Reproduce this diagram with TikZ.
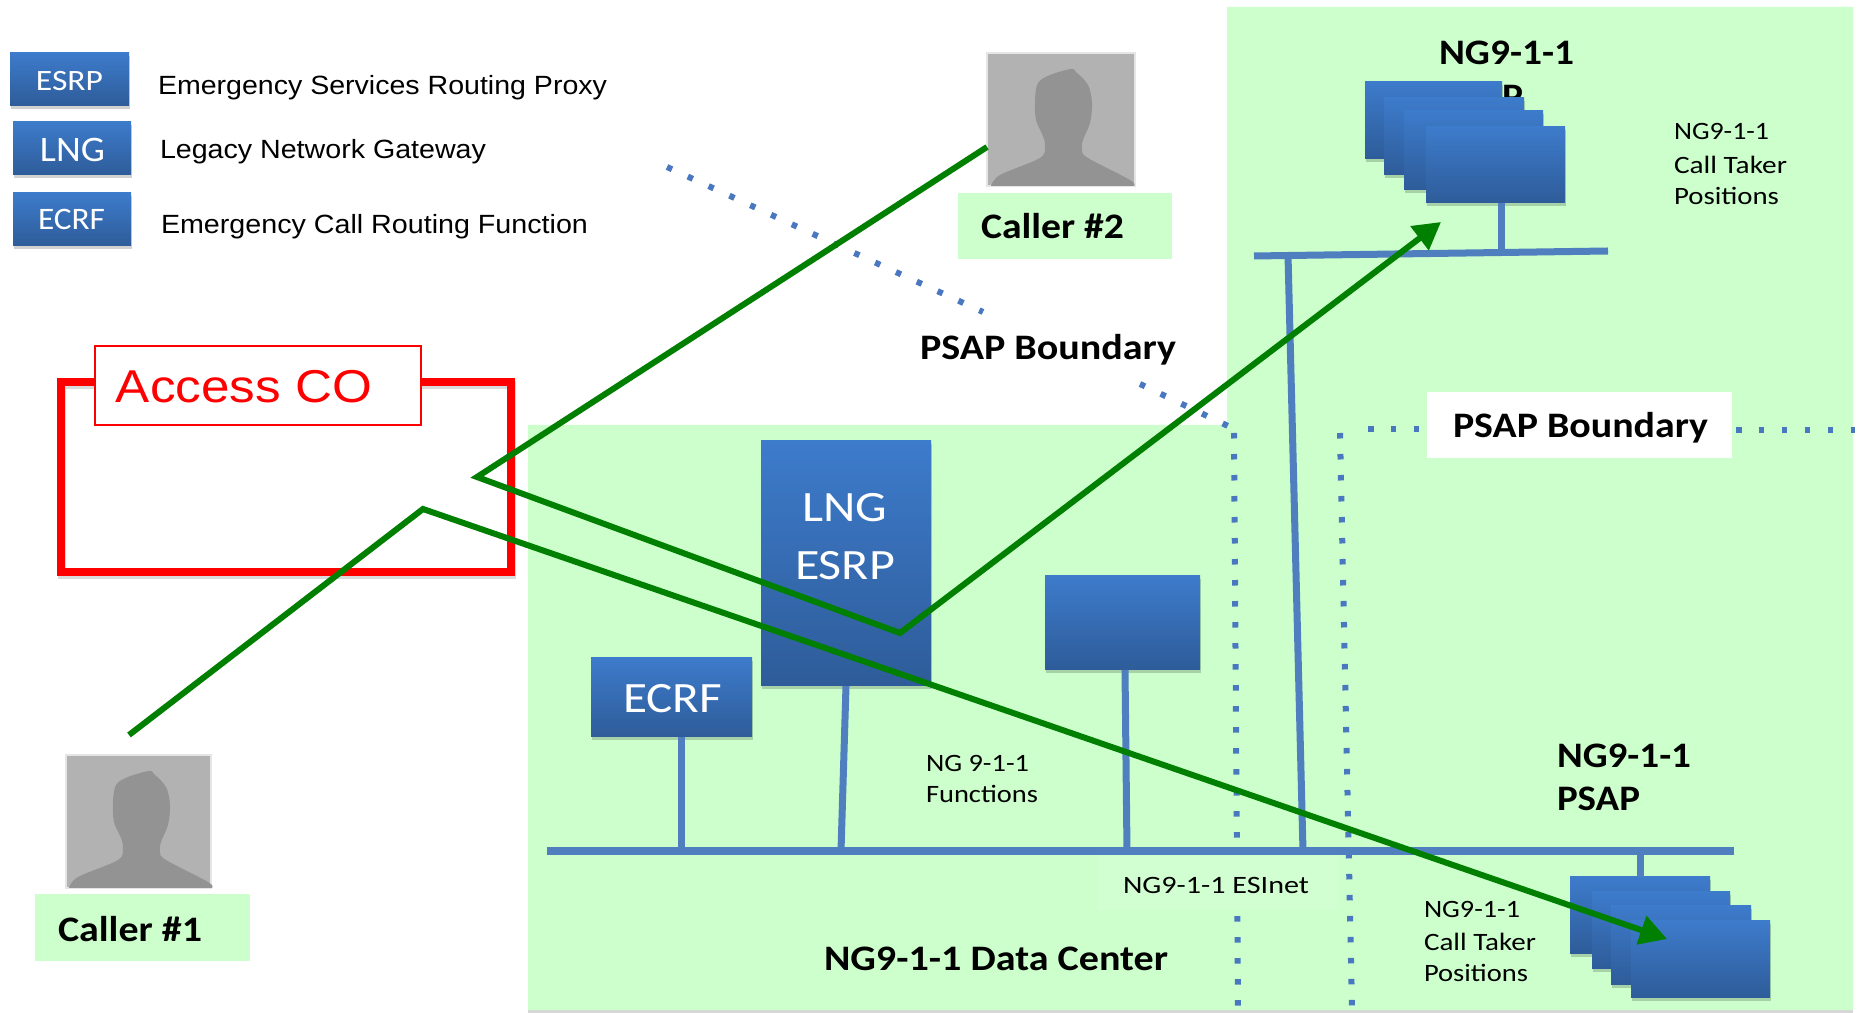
\documentclass[tikz,border=0pt]{standalone}
\usepackage{graphicx}
\usepackage{fontspec}
\setmainfont{Carlito}
\newfontfamily\arialf{Liberation Sans}
\usetikzlibrary{arrows.meta,shadows}
\newdimen\pxu \pxu=0.01cm
\newcommand\tw[2]{\resizebox{#1\pxu}{\height}{#2}}
\definecolor{regiongreen}{HTML}{CCFFCC}
\definecolor{labelgreen}{HTML}{D2FFD2}
\definecolor{flowgreen}{HTML}{007F00}
\definecolor{busblue}{HTML}{4F7FBF}
\definecolor{boxtop}{HTML}{3D7BCB}
\definecolor{boxbot}{HTML}{2E5C99}
\definecolor{dotblue}{HTML}{4A78C0}
\definecolor{photobg}{HTML}{B2B2B2}
\definecolor{photofg}{HTML}{939393}
\tikzset{
  wh/.style 2 args={minimum width=#1*0.01cm,minimum height=#2*0.01cm,anchor=north west,inner sep=0pt,outer sep=0pt},
  softshadow/.style={drop shadow={shadow xshift=0.3pt,shadow yshift=-0.9pt,opacity=.18,fill=black}},
  bluebox/.style={top color=boxtop,bottom color=boxbot,softshadow},
  callerbox/.style={fill=regiongreen},
  photobox/.style={fill=photobg,draw=black!10,line width=0.3pt},
  lab/.style={anchor=base west,inner sep=0pt,outer sep=0pt,text=black},
  title/.style={lab,yshift=-0.015cm,font=\fontsize{10.2}{12}\selectfont\bfseries},
  small/.style={lab,yshift=-0.015cm,font=\fontsize{7.1}{9}\selectfont},
  legend/.style={lab,font=\fontsize{7.5}{9}\selectfont\arialf},
  whitelabel/.style={lab,text=white,font=\fontsize{#1}{14}\selectfont},
  bus/.style={draw=busblue,line width=0.07cm},
  dotted line/.style={draw=dotblue,line width=0.06cm,dash pattern=on 0.055cm off #1*0.01cm},
  flow/.style={draw=flowgreen,line width=0.06cm,line join=miter},
  flowarrow/.style={flow,-{Triangle[length=0.27cm,width=0.29cm]}},
}
\newcommand\silhouette[2]{%
  \begin{scope}[shift={(#1,#2)}]
    \fill[photofg] plot[smooth,tension=.55] coordinates {(4,133) (13,122) (53,105) (58,93) (56,83) (49,67) (48,47) (51,30) (63,22) (84,16) (89,19) (101,32) (105,50) (103,70) (96,87) (95,97) (101,105) (143,127) (147,133)} -- cycle;
  \end{scope}}
\begin{document}
\begin{tikzpicture}[x=0.01cm,y=-0.01cm]
\useasboundingbox (0,0) rectangle (1860,1013);
\fill[white] (0,0) rectangle (1860,1013);
% regions
\fill[black!16] (528,1008) rectangle (1853,1013);
\fill[regiongreen] (1227,7) -- (1853,7) -- (1853,1010) -- (528,1010) -- (528,425) -- (1227,425) -- cycle;

% hidden title behind the stack
\node[title] (topnga) at (1439,63) {\tw{135}{NG9-1-1}};
\node[title] (toppsap) at (1439,107) {\tw{84}{PSAP}};

% named coordinates
\coordinate (d1a) at (667,167); \coordinate (d1b) at (983,312);
\coordinate (d2a) at (1140,384); \coordinate (d2b) at (1228,426);
\coordinate (d3a) at (1234,433); \coordinate (d3b) at (1238,1008);
\coordinate (d4a) at (1340,433); \coordinate (d4b) at (1352,1008);
\coordinate (d5a) at (1368,429); \coordinate (d5b) at (1425,429);
\coordinate (d6a) at (1736,430); \coordinate (d6b) at (1855,430);
\coordinate (busL) at (547,851); \coordinate (busR) at (1734,851);
\coordinate (topbusL) at (1254,256); \coordinate (topbusR) at (1608,251);

% boundaries
\draw[dotted line=17.4] (d1a) -- (d1b);
\draw[dotted line=17.4] (d2a) -- (d2b);
\draw[dotted line=15.5] (d3a) -- (d3b);
\draw[dotted line=15.5] (d4a) -- (d4b);
\draw[dotted line=17.4] (d5a) -- (d5b);
\draw[dotted line=17.4] (d6a) -- (d6b);

% labels over boundaries
\node[wh={239}{55},fill=labelgreen] (esnetbg) at (1098,855) {};
\node[wh={305}{66},fill=white] (psapbg) at (1427,392) {};
\node[title] (psapb2) at (1453,436) {\tw{255}{PSAP Boundary}};
\node[title] (psapb1) at (920,358) {\tw{256}{PSAP Boundary}};

% functional boxes
\node[wh={170}{245},bluebox] (lng) at (761,441) {};
\node[wh={161}{79},bluebox] (ecrf) at (591,658) {};
\node[wh={155}{94},bluebox] (func) at (1045,576) {};
\node[whitelabel=12.3] (lngt) at (802,522) {\tw{85}{LNG}};
\node[whitelabel=12.3] (esrpt) at (795,580) {\tw{100}{ESRP}};
\node[whitelabel=12.3] (ecrft) at (623,713) {\tw{99}{ECRF}};

% stacks
\node[wh={137}{77},bluebox] (ta) at (1365,82) {};
\node[wh={140}{77},bluebox] (tb) at (1384,98) {};
\node[wh={139}{79},bluebox] (tc) at (1404,111) {};
\node[wh={139}{76},bluebox] (td) at (1426,127) {};
\node[wh={140}{77},bluebox] (ba) at (1570,877) {};
\node[wh={138}{77},bluebox] (bb) at (1592,892) {};
\node[wh={140}{79},bluebox] (bc) at (1611,906) {};
\node[wh={139}{77},bluebox] (bd) at (1631,921) {};

% network lines
\coordinate (s1) at (681,851); \coordinate (s2) at (841,851);
\coordinate (s3) at (1127,851); \coordinate (s4) at (1303,851);
\coordinate (s5) at (1640,851);
\coordinate (s4t) at (1288,255); \coordinate (s6) at (1501,252);
\draw[bus] (ecrf.south -| s1) -- (s1);
\draw[bus] (lng.south) -- (s2);
\draw[bus] (func.south -| 1125,0) -- (s3);
\draw[bus] (s4t) -- (s4);
\draw[bus] (s5) -- (ba.north -| s5);
\draw[bus] (td.south -| s6) -- (s6);
\draw[bus] (busL) -- (busR);
\draw[bus] (topbusL) -- (topbusR);

% legend
\node[wh={119}{53},bluebox] (lesrp) at (10,53) {};
\node[wh={118}{53},bluebox] (llng) at (13,122) {};
\node[wh={118}{53},bluebox] (lecrf) at (13,193) {};
\node[whitelabel=8.4] (lesrpt) at (36,91) {\tw{67}{ESRP}};
\node[whitelabel=10.2] (llngt) at (40,162) {\tw{65}{LNG}};
\node[whitelabel=8.9] (lecrft) at (38,230) {\tw{67}{ECRF}};
\node[legend] (l1) at (158,95) {\tw{449}{Emergency Services Routing Proxy}};
\node[legend] (l2) at (160,159) {\tw{326}{Legacy Network Gateway}};
\node[legend] (l3) at (161,234) {\tw{427}{Emergency Call Routing Function}};

% Access CO
\draw[black,opacity=.14,line width=0.085cm] (62,385) rectangle (512,575);
\draw[red,line width=0.085cm] (61,382) rectangle (511,572);
\node[wh={326}{79},fill=white,draw=red,line width=0.02cm] (co) at (95,346) {};
\node[lab,text=red,font=\fontsize{13.1}{15}\selectfont\arialf] (cot) at (116,403) {\tw{256}{Access CO}};

% callers
\node[wh={148}{133},photobox] (p2) at (987,53) {};
\silhouette{987}{53}
\node[wh={214}{66},callerbox] (c2) at (958,193) {};
\node[title] (c2t) at (981,237) {\tw{143}{Caller \#2}};
\node[wh={145}{133},photobox] (p1) at (66,755) {};
\silhouette{65}{755}
\node[wh={215}{67},callerbox] (c1) at (35,894) {};
\node[title] (c1t) at (58,940) {\tw{144}{Caller \#1}};

% text
\node[small] (ta1) at (1674,138) {\tw{95}{NG9-1-1}};
\node[small] (ta2) at (1674,172) {\tw{113}{Call Taker}};
\node[small] (ta3) at (1674,203) {\tw{105}{Positions}};
\node[small] (tb1) at (1424,916) {\tw{96}{NG9-1-1}};
\node[small] (tb2) at (1424,949) {\tw{112}{Call Taker}};
\node[small] (tb3) at (1424,980) {\tw{104}{Positions}};
\node[small] (es) at (1123,892) {\tw{186}{NG9-1-1 ESInet}};
\node[small] (fn1) at (926,770) {\tw{103}{NG 9-1-1}};
\node[small] (fn2) at (926,801) {\tw{112}{Functions}};
\node[title] (dc) at (824,969) {\tw{344}{NG9-1-1 Data Center}};
\node[title] (bnga) at (1557,766) {\tw{134}{NG9-1-1}};
\node[title] (bpsap) at (1557,809) {\tw{83}{PSAP}};

% call flows
\coordinate (f1s) at (129,735); \coordinate (f1a) at (423,509);
\coordinate (f1e) at (1667,939);
\coordinate (f2s) at (987,147); \coordinate (f2a) at (477,477);
\coordinate (f2b) at (900,633); \coordinate (f2e) at (1441,222);
\draw[flowarrow] (f1s) -- (f1a) -- (f1e);
\draw[flowarrow] (f2s) -- (f2a) -- (f2b) -- (f2e);
\end{tikzpicture}
\end{document}
